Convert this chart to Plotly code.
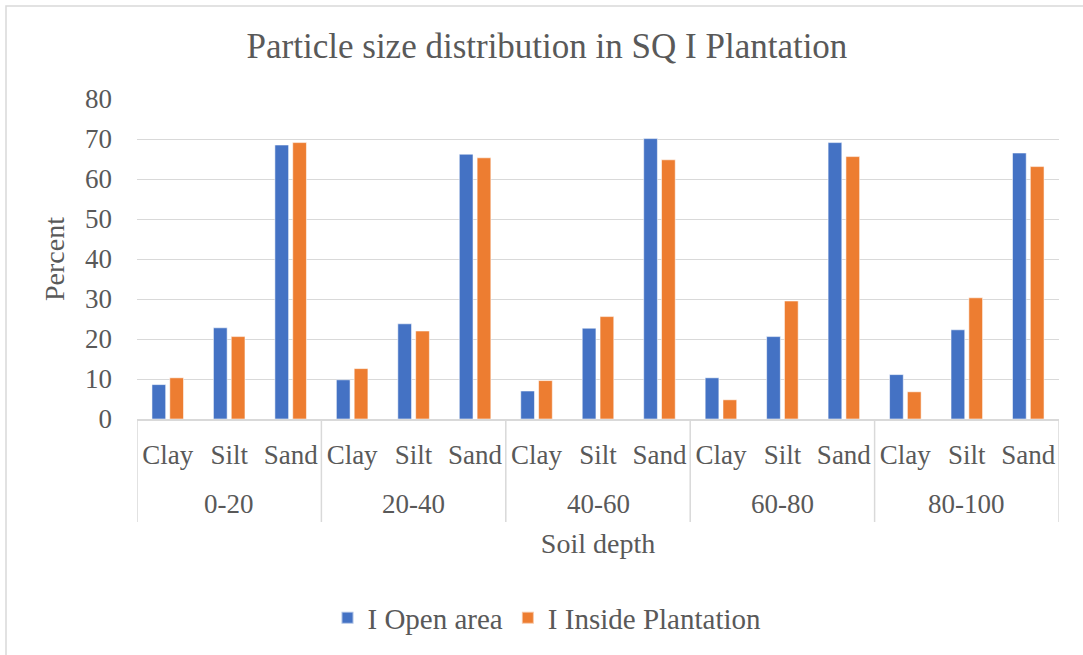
import plotly.graph_objects as go

# Soil depth groups (cm) and particle fractions
depths = ["0-20", "20-40", "40-60", "60-80", "80-100"]
fractions = ["Clay", "Silt", "Sand"]

# Percent of each fraction, listed depth by depth (Clay, Silt, Sand)
open_area = [8.6, 22.8, 68.5,
             9.8, 23.8, 66.2,
             7.0, 22.7, 70.1,
             10.3, 20.6, 69.1,
             11.1, 22.3, 66.5]
inside_plantation = [10.3, 20.6, 69.1,
                     12.6, 22.0, 65.3,
                     9.6, 25.6, 64.8,
                     4.8, 29.5, 65.6,
                     6.8, 30.3, 63.1]

series_names = ["I Open area", "I Inside Plantation"]
series_colors = ["#4472C4", "#ED7D31"]

n_frac = len(fractions)
positions = list(range(len(depths) * n_frac))
inner_labels = [f for _ in depths for f in fractions]

W, H = 1083, 655
L, R, T, B = 137, 24, 99, 236
FONT = "Liberation Serif, Times New Roman, serif"
GREY = "#595959"
GRID = "#d9d9d9"

pw, ph = W - L - R, H - T - B

def px_x(p):
    return (p - L) / pw

def px_y(p):
    return (H - B - p) / ph

fig = go.Figure()
for name, vals, col in zip(series_names, [open_area, inside_plantation], series_colors):
    fig.add_trace(go.Bar(
        x=positions, y=vals, name=name,
        marker=dict(color=col, line=dict(color="rgba(255,255,255,0.55)", width=1)),
    ))

# Depth group labels and the dividers between groups
for i, d in enumerate(depths):
    fig.add_annotation(x=i * n_frac + (n_frac - 1) / 2, xref="x",
                       y=px_y(504), yref="paper", yanchor="middle",
                       text=d, showarrow=False,
                       font=dict(family=FONT, size=27, color=GREY))
for i in range(len(depths) + 1):
    xd = i * n_frac - 0.5
    fig.add_shape(type="line", xref="x", yref="paper",
                  x0=xd, x1=xd, y0=0, y1=px_y(522),
                  line=dict(color=GRID, width=1.5))

fig.update_layout(
    width=W, height=H,
    margin=dict(l=L, r=R, t=T, b=B, autoexpand=False),
    paper_bgcolor="white", plot_bgcolor="white",
    font=dict(family=FONT, color=GREY, size=27),
    barmode="group", bargap=0.42, bargroupgap=0.23,
    title=dict(text="Particle size distribution in SQ I Plantation",
               font=dict(family=FONT, size=35, color=GREY),
               x=px_x(547), xref="paper", xanchor="center",
               y=1 - 46 / H, yref="container", yanchor="middle"),
    showlegend=True,
    legend=dict(orientation="h", x=px_x(547), xref="paper", xanchor="center",
                y=px_y(618), yanchor="middle",
                font=dict(family=FONT, size=29, color=GREY),
                itemsizing="constant", traceorder="normal"),
    xaxis=dict(range=[-0.5, len(positions) - 0.5], tickmode="array",
               tickvals=positions, ticktext=inner_labels, tickangle=0,
               showgrid=False, zeroline=False, showline=True,
               linecolor=GRID, linewidth=1.5, ticks="", ticklabelstandoff=11,
               tickfont=dict(family=FONT, size=27, color=GREY),
               title=dict(text="Soil depth", font=dict(family=FONT, size=28, color=GREY),
                          standoff=64)),
    yaxis=dict(range=[0, 80], dtick=10, showgrid=True, gridcolor=GRID, gridwidth=1.3,
               zeroline=False, showline=False, ticks="", ticklabelstandoff=24,
               tickfont=dict(family=FONT, size=27, color=GREY),
               title=dict(text="Percent", font=dict(family=FONT, size=28, color=GREY),
                          standoff=12)),
)

# Light frame around the chart
fig.add_shape(type="rect", xref="paper", yref="paper",
              x0=px_x(6), x1=px_x(W + 20), y0=px_y(6), y1=px_y(H + 20),
              line=dict(color=GRID, width=1.5), fillcolor="rgba(0,0,0,0)", layer="below")

fig.write_html("out.html")
